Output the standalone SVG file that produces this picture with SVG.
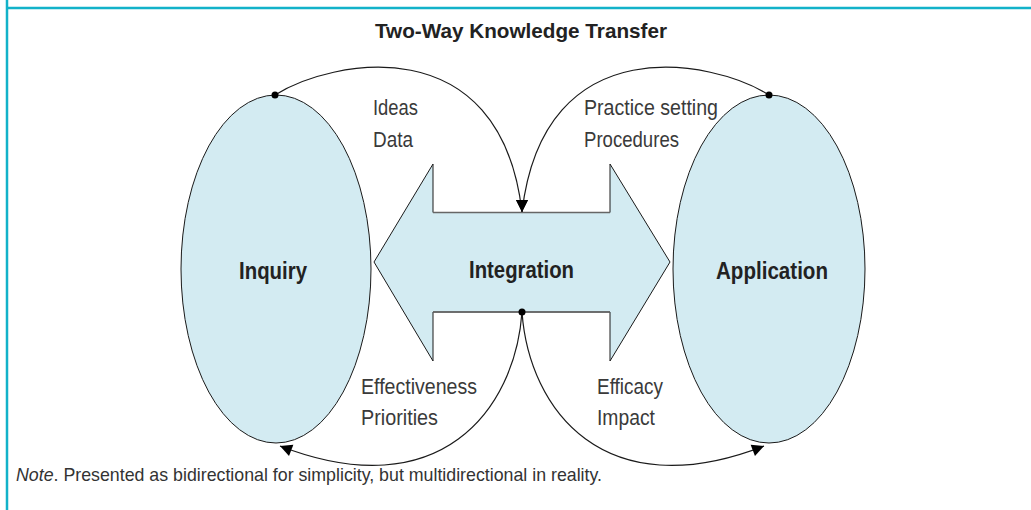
<svg xmlns="http://www.w3.org/2000/svg" width="1031" height="510" viewBox="0 0 1031 510">
<style>
.frame{stroke:#12b2c9;stroke-width:2.5;fill:none}
.node{fill:#d3ebf2;stroke:#1a1a1a;stroke-width:1}
.bold{font-family:"Liberation Sans",Arial,sans-serif;font-weight:bold;font-size:23px;fill:#222}
.lbl{font-family:"Liberation Sans",Arial,sans-serif;font-size:22.5px;fill:#3a3a3a}
.note{font-family:"Liberation Sans",Arial,sans-serif;font-size:19px;fill:#333}
.conn{fill:none;stroke:#1a1a1a;stroke-width:1.2}
</style>
<defs>
<marker id="arrDown" markerUnits="userSpaceOnUse" markerWidth="14" markerHeight="14" viewBox="0 0 14 14" refX="13" refY="7" orient="90">
<path d="M1,1 L13,7 L1,13 Z" fill="#000"/>
</marker>
<marker id="arr" markerUnits="userSpaceOnUse" markerWidth="14" markerHeight="14" viewBox="0 0 14 14" refX="13" refY="7" orient="auto">
<path d="M1,1 L13,7 L1,13 Z" fill="#000"/>
</marker>
</defs>
<rect x="0" y="0" width="1031" height="510" fill="#fff"/>
<line class="frame" x1="7" y1="0" x2="7" y2="510"/>
<line class="frame" x1="7" y1="8" x2="1031" y2="8"/>
<text class="bold" x="375" y="38" textLength="292" lengthAdjust="spacingAndGlyphs" style="font-size:21px">Two-Way Knowledge Transfer</text>
<g id="inquiry">
<ellipse class="node" cx="276" cy="269" rx="95" ry="174"/>
<text class="bold" x="239" y="279" textLength="68" lengthAdjust="spacingAndGlyphs">Inquiry</text>
</g>
<g id="application">
<ellipse class="node" cx="769" cy="269" rx="96" ry="174"/>
<text class="bold" x="716" y="279" textLength="112" lengthAdjust="spacingAndGlyphs">Application</text>
</g>
<g id="integration">
<polygon class="node" points="374,262 433,164 433,212.5 610,212.5 610,164 670,262 610,361 610,312 433,312 433,361"/>
<line x1="433" y1="212.5" x2="610" y2="212.5" stroke="#666" stroke-width="1.6"/>
<line x1="433" y1="312" x2="610" y2="312" stroke="#666" stroke-width="1.6"/>
<text class="bold" x="469" y="278" textLength="105" lengthAdjust="spacingAndGlyphs">Integration</text>
</g>
<g id="connectors">
<path class="conn" d="M275,95 C330,60 500,25 522,212" marker-end="url(#arrDown)"/>
<path class="conn" d="M769,95 C714,60 544,25 522,212" marker-end="url(#arrDown)"/>
<path class="conn" d="M522,312 C515,410 440,508 280,446" marker-end="url(#arr)"/>
<path class="conn" d="M522,312 C529,410 604,508 764,446" marker-end="url(#arr)"/>
<circle cx="275" cy="95" r="3.5" fill="#000"/>
<circle cx="769" cy="95" r="3.5" fill="#000"/>
<circle cx="522" cy="312" r="3.5" fill="#000"/>
</g>
<g id="labels">
<text class="lbl" x="373" y="115" textLength="45" lengthAdjust="spacingAndGlyphs">Ideas</text>
<text class="lbl" x="373" y="147" textLength="40" lengthAdjust="spacingAndGlyphs">Data</text>
<text class="lbl" x="584" y="115" textLength="134" lengthAdjust="spacingAndGlyphs">Practice setting</text>
<text class="lbl" x="584" y="147" textLength="95" lengthAdjust="spacingAndGlyphs">Procedures</text>
<text class="lbl" x="361" y="394" textLength="116" lengthAdjust="spacingAndGlyphs">Effectiveness</text>
<text class="lbl" x="361" y="425" textLength="77" lengthAdjust="spacingAndGlyphs">Priorities</text>
<text class="lbl" x="597" y="394" textLength="66" lengthAdjust="spacingAndGlyphs">Efficacy</text>
<text class="lbl" x="597" y="425" textLength="58" lengthAdjust="spacingAndGlyphs">Impact</text>
</g>
<text class="note" x="16" y="481" textLength="586" lengthAdjust="spacingAndGlyphs"><tspan font-style="italic">Note</tspan>. Presented as bidirectional for simplicity, but multidirectional in reality.</text>
</svg>
